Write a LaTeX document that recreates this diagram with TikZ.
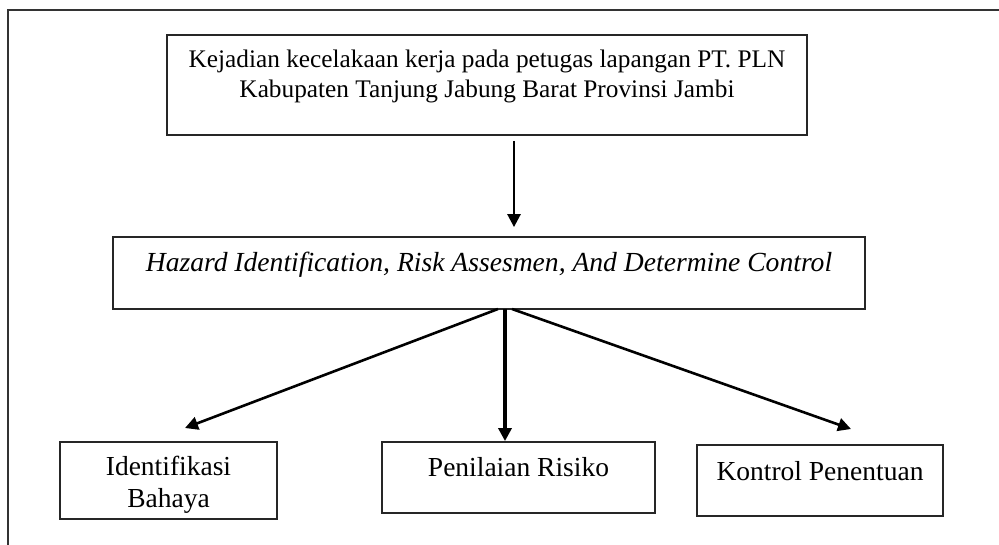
\documentclass[tikz,border=0pt]{standalone}
\usepackage{fontspec}
\setmainfont{Liberation Serif}
\usetikzlibrary{arrows.meta,calc}
\tikzset{
  box/.style={draw=black!85, line width=1.8pt, rectangle, inner sep=0pt},
  txt/.style={inner sep=0pt, align=center, font=\fontsize{25.3}{30}\selectfont},
  btxt/.style={inner sep=0pt, align=center, font=\fontsize{27.5}{32}\selectfont},
  arr/.style={draw=black, line width=2.6pt, -{Triangle[length=13pt,width=13pt]}},
  frame/.style={draw=black!80, line width=1.5pt}
}
\begin{document}
\begin{tikzpicture}[x=1pt,y=-1pt]
\useasboundingbox (0,0) rectangle (999,545);
% outer frame (partially visible)
\coordinate (fTR) at (999,10);
\coordinate (fTL) at (8,10);
\coordinate (fBL) at (8,545);
\draw[frame] (fTR) -- (fTL) -- (fBL);
% boxes
\node[box, minimum width=640pt, minimum height=100pt] (top) at (487,85) {};
\node[txt, anchor=base] (toptxt) at (487,98) {Kejadian kecelakaan kerja pada petugas lapangan PT. PLN\\Kabupaten Tanjung Jabung Barat Provinsi Jambi};
\node[box, minimum width=752pt, minimum height=72pt] (mid) at (489,273) {};
\node[txt, anchor=base, font=\fontsize{27.6}{30}\selectfont\itshape] (midtxt) at (489,272) {Hazard Identification, Risk Assesmen, And Determine Control};
\node[box, minimum width=217pt, minimum height=77pt] (b1) at (168.5,480.5) {};
\node[btxt, anchor=base] (b1txt) at (168.5,507) {Identifikasi\\Bahaya};
\node[box, minimum width=273pt, minimum height=71pt] (b2) at (518.5,477.5) {};
\node[btxt, anchor=base] (b2txt) at (518.5,476) {Penilaian Risiko};
\node[box, minimum width=246pt, minimum height=71pt] (b3) at (820,480.5) {};
\node[btxt, anchor=base] (b3txt) at (820,480) {Kontrol Penentuan};
% connector helpers
\coordinate (a1) at (514,0);
\coordinate (fork) at (505,309);
\coordinate (t1) at (185,428);
\coordinate (t2) at (505,0);
\coordinate (t3) at (851,429);
% connectors
\draw[arr, shorten <=5pt, shorten >=9pt] (top.south -| a1) -- (mid.north -| a1);
\draw[arr] ($(fork)+(-7,0)$) -- (t1);
\draw[arr, line width=3.4pt] (fork) -- (b2.north -| t2);
\draw[arr] ($(fork)+(7,0)$) -- (t3);
\end{tikzpicture}
\end{document}
